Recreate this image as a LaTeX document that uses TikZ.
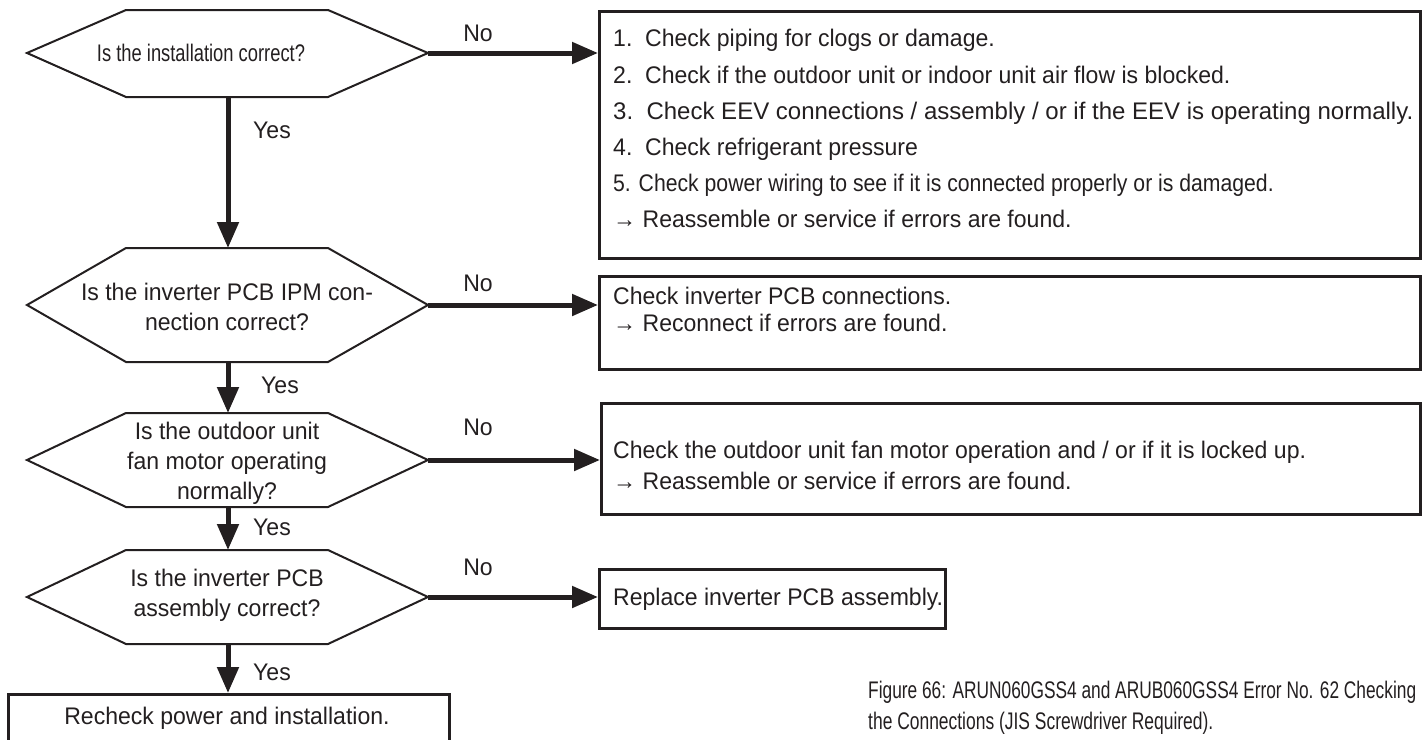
\documentclass[tikz,border=0pt]{standalone}
\usepackage{fontspec}
\setmainfont[FakeStretch=0.96]{Liberation Sans}
\usepackage{graphicx}
\usetikzlibrary{arrows.meta}
\definecolor{ink}{HTML}{231F20}
\begin{document}
\begin{tikzpicture}[x=1pt,y=-1pt,
  txt/.style={font=\fontsize{24}{30}\selectfont, text=ink, inner sep=0pt},
  qtxt/.style={txt, align=center},
  ltxt/.style={txt, anchor=base west},
  dec/.style={draw=ink, line width=2pt, line join=miter},
  boxst/.style={draw=ink, line width=2.5pt, inner sep=0pt, anchor=north west},
  flow/.style={draw=ink, line width=5pt, -{Triangle[length=26pt,width=21pt]}},
]
\useasboundingbox (0,0) rectangle (1424,739);

% ---------- decisions ----------
\draw[dec] (27,53) coordinate (d1W) -- (126,10) -- (328,10) -- (428,53) coordinate (d1E) -- (328,97) -- (126,97) -- cycle;
\coordinate (d1S) at (228,97);
\node[txt] (q1) at (201,53) {\resizebox{208pt}{\height}{Is the installation correct?}};

\draw[dec] (27,305) -- (126,248) -- (328,248) -- (428,305) coordinate (d2E) -- (328,362) -- (126,362) -- cycle;
\coordinate (d2N) at (228,248);
\coordinate (d2S) at (228,362);
\node[qtxt] (q2) at (227,307) {Is the inverter PCB IPM con-\\nection correct?};

\draw[dec] (27,460) -- (126,413) -- (328,413) -- (428,460) coordinate (d3E) -- (328,507) -- (126,507) -- cycle;
\coordinate (d3N) at (228,413);
\coordinate (d3S) at (228,507);
\node[qtxt] (q3) at (227,463) {Is the outdoor unit\\fan motor operating\\normally?};

\draw[dec] (27,597) -- (126,550) -- (328,550) -- (428,597) coordinate (d4E) -- (328,644) -- (126,644) -- cycle;
\coordinate (d4N) at (228,550);
\coordinate (d4S) at (228,644);
\node[qtxt] (q4) at (227,595) {Is the inverter PCB\\assembly correct?};

% ---------- boxes ----------
\node[boxst, minimum width=821pt, minimum height=247pt] (b1) at (598,10) {};
\node[ltxt] (b1l1) at (613,46)  {1.~~Check piping for clogs or damage.};
\node[ltxt] (b1l2) at (613,83)  {2.~~Check if the outdoor unit or indoor unit air flow is blocked.};
\node[ltxt] (b1l3) at (613,119) {\resizebox{800pt}{\height}{3.~~Check EEV connections / assembly / or if the EEV is operating normally.}};
\node[ltxt] (b1l4) at (613,155) {4.~~Check refrigerant pressure};
\node[ltxt] (b1l5) at (613,191) {\scalebox{0.92}[1]{5. Check power wiring to see if it is connected properly or is damaged.}};
\node[ltxt] (b1l6) at (613,227) {→ Reassemble or service if errors are found.};

\node[boxst, minimum width=821pt, minimum height=93pt] (b2) at (598,275) {};
\node[ltxt] (b2l1) at (613,304) {Check inverter PCB connections.};
\node[ltxt] (b2l2) at (613,331) {→ Reconnect if errors are found.};

\node[boxst, minimum width=819pt, minimum height=111pt] (b3) at (600,402) {};
\node[ltxt] (b3l1) at (613,458) {Check the outdoor unit fan motor operation and / or if it is locked up.};
\node[ltxt] (b3l2) at (613,489) {→ Reassemble or service if errors are found.};

\node[boxst, minimum width=346pt, minimum height=59pt] (b4) at (598,568) {};
\node[ltxt] (b4l1) at (613,605) {Replace inverter PCB assembly.};

\node[boxst, minimum width=441pt, minimum height=50pt] (b5) at (7,693) {};
\node[txt] (b5l1) at (227,718) {Recheck power and installation.};

% ---------- caption ----------
\node[ltxt] (cap1) at (868,698) {\resizebox{548pt}{\height}{Figure 66: ARUN060GSS4 and ARUB060GSS4 Error No. 62 Checking}};
\node[ltxt] (cap2) at (868,729) {\scalebox{0.757}[1]{the Connections (JIS Screwdriver Required).}};

% ---------- connectors ----------
\draw[flow] (d1E) -- (d1E -| b1.west);
\draw[flow] (d2E) -- (d2E -| b2.west);
\draw[flow] (d3E) -- (d3E -| b3.west);
\draw[flow] (d4E) -- (d4E -| b4.west);
\draw[flow] (d1S) -- (d2N);
\draw[flow] (d2S) -- (d3N);
\draw[flow] (d3S) -- (d4N);
\draw[flow] (d4S) -- (b5.north -| d4S);

% ---------- labels ----------
\node[txt] (n1) at (478,33)  {No};
\node[txt] (n2) at (478,283) {No};
\node[txt] (n3) at (478,427) {No};
\node[txt] (n4) at (478,567) {No};
\node[txt] (y1) at (272,130) {Yes};
\node[txt] (y2) at (280,385) {Yes};
\node[txt] (y3) at (272,527) {Yes};
\node[txt] (y4) at (272,672) {Yes};
\end{tikzpicture}
\end{document}
